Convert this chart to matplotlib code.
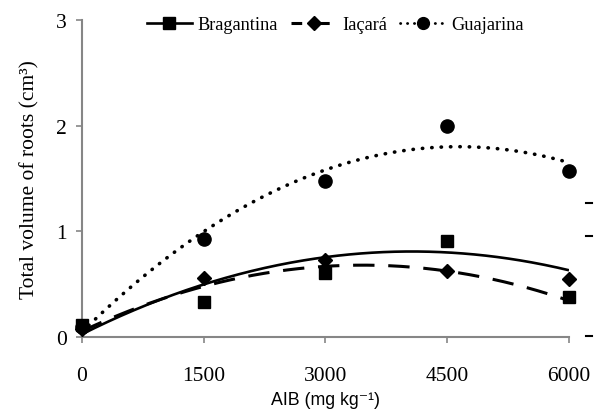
import numpy as np
import matplotlib
matplotlib.use("Agg")
import matplotlib.pyplot as plt
from matplotlib.lines import Line2D

# ---- data ----
doses = [0, 1500, 3000, 4500, 6000]
x_ticks = [0, 1500, 3000, 4500, 6000]
y_ticks = [0, 1, 2, 3]
series_names = ["Bragantina", "Iaçará", "Guajarina"]

bragantina = [0.12, 0.33, 0.61, 0.91, 0.38]
iacara = [0.08, 0.56, 0.73, 0.63, 0.55]
guajarina = [0.10, 0.93, 1.48, 2.00, 1.57]

# trend-line values read at each dose (quadratic trend lines)
bragantina_trend = [0.03, 0.50, 0.75, 0.81, 0.63]
iacara_trend = [0.05, 0.50, 0.66, 0.62, 0.35]
guajarina_trend = [0.05, 1.00, 1.58, 1.80, 1.65]

serif = ["Liberation Serif", "DejaVu Serif"]
sans = ["Liberation Sans", "DejaVu Sans"]
plt.rcParams["font.family"] = serif

fig = plt.figure(figsize=(6.04, 4.14), dpi=100)
ax = fig.add_axes([0.1358, 0.1829, 0.8062, 0.7671])

gray = "#868686"
markers = ["s", "D", "o"]
msizes = [9, 7.5, 9.5]
vals = [bragantina, iacara, guajarina]
trends = [bragantina_trend, iacara_trend, guajarina_trend]

xs = np.linspace(0, 6000, 300)
handles = []
for i, (name, v, tr) in enumerate(zip(series_names, vals, trends)):
    coef = np.polyfit(doses, tr, 2)
    ys = np.polyval(coef, xs)
    if i == 0:
        ax.plot(xs, ys, color="black", lw=1.9, solid_capstyle="butt")
        h = Line2D([], [], color="black", lw=1.9, marker=markers[i], ms=8.5)
    elif i == 1:
        ax.plot(xs, ys, color="black", lw=2.2, dashes=(7, 4.5),
                dash_capstyle="butt")
        h = Line2D([], [], color="black", lw=2.2, dashes=(3.5, 5.5),
                   marker=markers[i], ms=7)
    else:
        ax.plot(xs, ys, color="black", lw=2.6, dashes=(0.1, 2.5),
                dash_capstyle="round")
        h = Line2D([], [], color="black", lw=2.0, dashes=(0.1, 2.4),
                   dash_capstyle="round", marker=markers[i], ms=8.5)
    ax.plot(doses, v, ls="none", marker=markers[i], ms=msizes[i],
            color="black", clip_on=False, zorder=5)
    handles.append(h)

ax.set_xlim(0, 6000)
ax.set_ylim(0, 3)
ax.set_xticks(x_ticks)
ax.set_yticks(y_ticks)
ax.set_xticklabels([str(t) for t in x_ticks])
ax.set_yticklabels([str(t) for t in y_ticks])

for s in ["top", "right"]:
    ax.spines[s].set_visible(False)
for s in ["left", "bottom"]:
    ax.spines[s].set_color(gray)
    ax.spines[s].set_linewidth(1.5)
ax.tick_params(axis="both", colors=gray, labelcolor="black", labelsize=15.5,
               width=1.2, length=4, direction="out")
ax.tick_params(axis="x", pad=17)
ax.tick_params(axis="y", pad=7)

ax.set_ylabel("Total volume of roots (cm³)", fontsize=15.5, labelpad=12,
              family=serif)
ax.set_xlabel("AIB (mg kg⁻¹)", fontsize=12.8, family=sans, labelpad=4)

leg = ax.legend(handles, series_names, loc="center",
                bbox_to_anchor=(0.52, 0.985), ncol=3, frameon=False,
                fontsize=13.2, handlelength=2.5, handletextpad=0.3,
                columnspacing=0.7, borderaxespad=0)

# small stray marks on the right side of the original
for yy in [0.01, 0.96, 1.27]:
    ax.plot([1.035, 1.047], [yy / 3, yy / 3], transform=ax.transAxes,
            color="black", lw=1.5, clip_on=False)

fig.savefig("out.png", dpi=100)
